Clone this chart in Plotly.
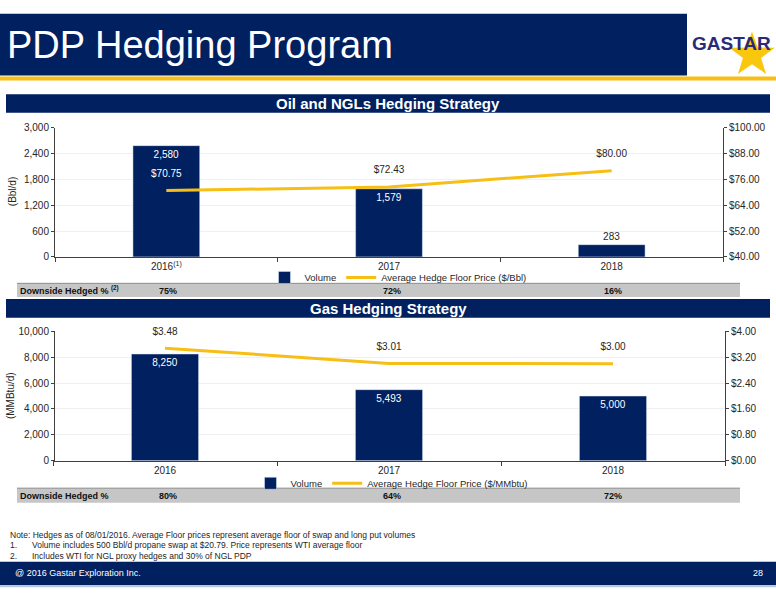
import plotly.graph_objects as go
import numpy as np

W, H = 776, 600

# ---------------- data ----------------
years = ["2016", "2017", "2018"]
oil_tick_labels = ["2016<sup>(1)</sup>", "2017", "2018"]
oil_volume = [2580, 1579, 283]
oil_price = [70.75, 72.43, 80.00]
oil_downside = ["75%", "72%", "16%"]

gas_tick_labels = ["2016", "2017", "2018"]
gas_volume = [8250, 5493, 5000]
gas_price = [3.48, 3.01, 3.00]
gas_downside = ["80%", "64%", "72%"]

NAVY = "#002060"
GOLD = "#F7BE16"
GRAY = "#C6C6C6"
AX = "#404040"
TXT = "#262626"
FONT = "Liberation Sans, Arial, sans-serif"


def px(x):
    return x / W


def py(y):
    return 1 - y / H


fig = go.Figure()

# ---- oil chart ----
fig.add_trace(go.Bar(
    x=years, y=oil_volume, name="Volume", marker_color=NAVY, width=0.3,
    text=[f"{v:,}" for v in oil_volume],
    textposition=["inside", "inside", "outside"],
    insidetextanchor="end",
    insidetextfont=dict(color="white", size=10, family=FONT),
    outsidetextfont=dict(color=TXT, size=10, family=FONT),
    cliponaxis=False, xaxis="x", yaxis="y", legend="legend",
))
fig.add_trace(go.Scatter(
    x=years, y=oil_price, name="Average Hedge Floor Price ($/Bbl)",
    mode="lines+markers+text", line=dict(color=GOLD, width=3),
    marker=dict(size=16, color="rgba(0,0,0,0)"),
    text=[f"${v:.2f}" for v in oil_price], textposition="top center",
    textfont=dict(color=["white", TXT, TXT], size=10, family=FONT),
    cliponaxis=False, xaxis="x", yaxis="y2", legend="legend",
))

# ---- gas chart ----
fig.add_trace(go.Bar(
    x=years, y=gas_volume, name="Volume", marker_color=NAVY, width=0.3,
    text=[f"{v:,}" for v in gas_volume],
    textposition="inside", insidetextanchor="end",
    insidetextfont=dict(color="white", size=10, family=FONT),
    cliponaxis=False, xaxis="x2", yaxis="y3", legend="legend2",
))
fig.add_trace(go.Scatter(
    x=years, y=gas_price, name="Average Hedge Floor Price ($/MMbtu)",
    mode="lines+markers+text", line=dict(color=GOLD, width=3),
    marker=dict(size=16, color="rgba(0,0,0,0)"),
    text=[f"${v:.2f}" for v in gas_price], textposition="top center",
    textfont=dict(color=TXT, size=10, family=FONT),
    cliponaxis=False, xaxis="x2", yaxis="y4", legend="legend2",
))

tickfont = dict(size=10, color=TXT, family=FONT)
xcommon = dict(type="category", showline=True, linecolor=AX, linewidth=1,
               ticks="outside", tickson="boundaries", ticklen=4, tickcolor=AX,
               tickfont=tickfont, showgrid=False, fixedrange=True)
ycommon = dict(showline=True, linecolor=AX, linewidth=1, ticks="outside",
               ticklen=3, tickcolor=AX, tickfont=tickfont, zeroline=False,
               fixedrange=True)

fig.update_layout(
    width=W, height=H, margin=dict(l=0, r=0, t=0, b=0),
    paper_bgcolor="white", plot_bgcolor="white",
    font=dict(family=FONT, color=TXT),
    bargap=0.7,
    xaxis=dict(domain=[px(55), px(723)], anchor="y",
               tickvals=years, ticktext=oil_tick_labels, **xcommon),
    yaxis=dict(domain=[py(256), py(124)], range=[0, 3000], tick0=0, dtick=600,
               tickformat=",", showgrid=True, gridcolor="#F0F0F0", **ycommon),
    yaxis2=dict(overlaying="y", side="right", anchor="x", range=[40, 100],
                tick0=40, dtick=12, tickprefix="$", tickformat=".2f",
                showgrid=False, **ycommon),
    xaxis2=dict(domain=[px(53), px(725)], anchor="y3",
                tickvals=years, ticktext=gas_tick_labels, **xcommon),
    yaxis3=dict(domain=[py(464), py(332)], range=[0, 10000], tick0=0,
                dtick=2000, tickformat=",", showgrid=True, gridcolor="#F0F0F0",
                **ycommon),
    yaxis4=dict(overlaying="y3", side="right", anchor="x2", range=[0, 4],
                tick0=0, dtick=0.8, tickprefix="$", tickformat=".2f",
                showgrid=False, **ycommon),
    legend=dict(orientation="h", x=px(398), xanchor="center", y=py(277),
                yanchor="middle", font=dict(size=9.5, family=FONT, color=TXT),
                bgcolor="rgba(0,0,0,0)", itemwidth=30, tracegroupgap=0),
    legend2=dict(orientation="h", x=px(392), xanchor="center", y=py(487),
                 yanchor="middle", font=dict(size=9.5, family=FONT, color=TXT),
                 bgcolor="rgba(0,0,0,0)", itemwidth=30, tracegroupgap=0),
    showlegend=True,
)

shapes = []
ann = []


def rect(x0, y0, x1, y1, color, line=None, layer="below"):
    shapes.append(dict(type="rect", xref="paper", yref="paper",
                       x0=px(x0), x1=px(x1), y0=py(y1), y1=py(y0),
                       fillcolor=color, line=line or dict(width=0),
                       layer=layer))


def text(x, y, s, size=10, color=TXT, xanchor="left", bold=False, family=FONT,
         angle=0):
    ann.append(dict(xref="paper", yref="paper", x=px(x), y=py(y),
                    text=f"<b>{s}</b>" if bold else s, showarrow=False,
                    xanchor=xanchor, yanchor="middle", textangle=angle,
                    font=dict(size=size, color=color, family=family)))


# header
rect(0, 8, 687, 71, NAVY)
rect(0, 72, 776, 76, GOLD)
text(5, 40, "PDP Hedging Program", size=38, color="white")

# logo: star + wordmark
cx, cy, ro, ri = 752, 50, 24, 9.5
pts = []
for k in range(10):
    a = -np.pi / 2 + k * np.pi / 5
    r = ro if k % 2 == 0 else ri
    pts.append((cx + r * np.cos(a), cy + r * np.sin(a)))
path = "M " + " L ".join(f"{px(x):.5f},{py(y):.5f}" for x, y in pts) + " Z"
shapes.append(dict(type="path", xref="paper", yref="paper", path=path,
                   fillcolor="#F9C80E", line=dict(width=0), layer="below"))
text(731, 38, "GASTAR", size=19, color="#2B2A78", xanchor="center", bold=True,
     family="Liberation Sans Narrow, Liberation Sans, Arial")

# section banners
rect(6, 90, 770, 109, NAVY)
text(388, 100, "Oil and NGLs Hedging Strategy", size=15, color="white",
     xanchor="center", bold=True)
rect(6, 299, 770, 318, NAVY)
text(388, 309, "Gas Hedging Strategy", size=15, color="white",
     xanchor="center", bold=True)

# y-axis titles
text(12, 190, "(Bbl/d)", size=10, xanchor="center", angle=-90)
text(10, 398, "(MMBtu/d)", size=10, xanchor="center", angle=-90)

# downside hedged rows
rect(17, 283, 740, 297, GRAY)
shapes.append(dict(type="line", xref="paper", yref="paper", x0=px(17),
                   x1=px(740), y0=py(283), y1=py(283),
                   line=dict(color="#8C8C8C", width=1)))
text(18, 290, "Downside Hedged % <sup>(2)</sup>", size=9, bold=True,
     color="#111111")
for xc, s in zip([168, 392, 613], oil_downside):
    text(xc, 290.5, s, size=9, bold=True, color="#111111", xanchor="center")

rect(17, 492, 740, 507, GRAY)
shapes.append(dict(type="line", xref="paper", yref="paper", x0=px(17),
                   x1=px(740), y0=py(492), y1=py(492),
                   line=dict(color="#8C8C8C", width=1)))
text(18, 499.5, "Downside Hedged %", size=9, bold=True, color="#111111")
for xc, s in zip([168, 392, 613], gas_downside):
    text(xc, 500, s, size=9, bold=True, color="#111111", xanchor="center")

# notes
text(8, 540, "Note: Hedges as of 08/01/2016. Average Floor prices represent "
     "average floor of swap and long put volumes", size=8.5)
text(8, 550, "1.", size=8.5)
text(30, 550, "Volume includes 500 Bbl/d propane swap at $20.79. Price "
     "represents WTI average floor", size=8.5)
text(8, 561, "2.", size=8.5)
text(30, 561, "Includes WTI for NGL proxy hedges and 30% of NGL PDP", size=8.5)

# footer
rect(0, 567, 776, 591, NAVY)
rect(0, 591, 776, 593, "#B8C8E0")
text(13, 579, "@ 2016 Gastar Exploration Inc.", size=9, color="white")
text(765, 579, "28", size=9, color="white", xanchor="right")

fig.update_layout(shapes=shapes, annotations=ann)
fig.write_html(
    "out.html",
    config={"displayModeBar": False},
    post_script="document.body.style.margin='0';"
                "document.body.style.padding='0';"
                "document.body.style.overflow='hidden';",
)
